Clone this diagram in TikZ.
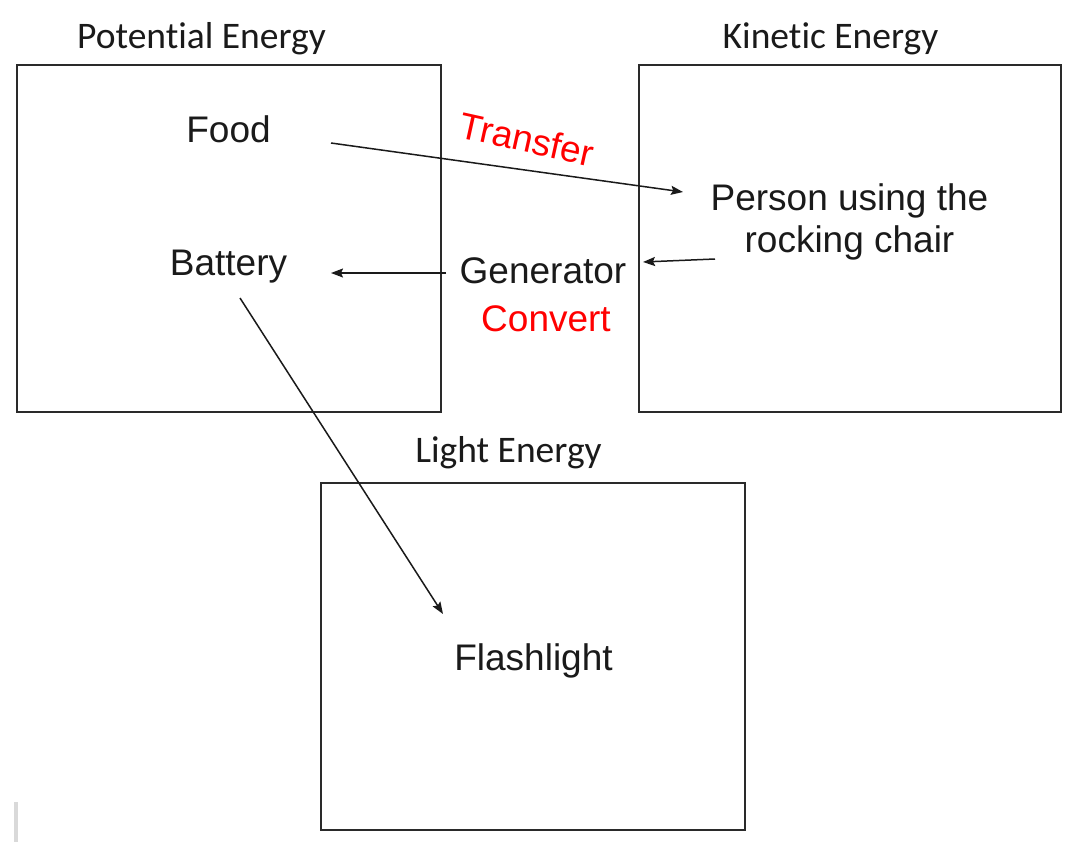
\documentclass[tikz,border=0pt]{standalone}
\usepackage{fontspec}
\setmainfont{Liberation Sans}
\newfontfamily\titlefont[Ligatures={NoCommon}]{Carlito}
\usetikzlibrary{arrows.meta}
\definecolor{boxline}{HTML}{2A2A2A}
\definecolor{txt}{HTML}{1A1A1A}
\definecolor{redtxt}{HTML}{FF0000}
\tikzset{
  energybox/.style={draw=boxline, line width=2pt, inner sep=0pt, outer sep=0pt},
  boxtitle/.style={anchor=base, inner sep=0pt, text=txt, font=\titlefont\fontsize{37.5}{42}\selectfont},
  item/.style={anchor=base, inner sep=0pt, text=txt, font=\fontsize{37}{42}\selectfont},
  redlabel/.style={anchor=base, inner sep=0pt, text=redtxt, font=\fontsize{37}{42}\selectfont},
  flow/.style={draw=txt, line width=1.5pt, -{Stealth[length=12pt,width=9pt,inset=2pt]}},
}
\begin{document}
\begin{tikzpicture}[x=1pt,y=-1pt]
\useasboundingbox (0,0) rectangle (1080,844);
\fill[white] (0,0) rectangle (1080,844);
% boxes
\draw[energybox] (17,65) rectangle (441,412);
\draw[energybox] (639,65) rectangle (1061,412);
\draw[energybox] (321,483) rectangle (745,830);
% titles
\node[boxtitle] (pt) at (201.5,48) {Potential Energy};
\node[boxtitle] (kt) at (830.5,48) {Kinetic Energy};
\node[boxtitle] (lt) at (508.5,462) {Light Energy};
% items
\node[item] (food) at (228.5,142) {Food};
\node[item] (battery) at (228.5,275) {Battery};
\node[item] (generator) at (543,283) {Generator};
\node[redlabel] (convert) at (546,331) {Convert};
\node[item, align=center] (person) at (849.5,252) {Person using the\\rocking chair};
\node[item] (flashlight) at (533.5,670) {Flashlight};
\node[redlabel, rotate=-12.5] (transfer) at (524,152) {Transfer};
% connector end points
\coordinate (foodOut) at (331,143);
\coordinate (personIn) at (683,192);
\coordinate (genOut) at (446,273);
\coordinate (batteryIn) at (331,273);
\coordinate (personOut) at (715,259);
\coordinate (genIn) at (643,262);
\coordinate (batteryOut) at (240,298);
\coordinate (flashIn) at (443,614);
\draw[flow] (foodOut) -- (personIn);
\draw[flow] (genOut) -- (batteryIn);
\draw[flow] (personOut) -- (genIn);
\draw[flow] (batteryOut) -- (flashIn);
% cursor bar
\fill[gray!30] (14,802) rectangle (18,842);
\end{tikzpicture}
\end{document}
